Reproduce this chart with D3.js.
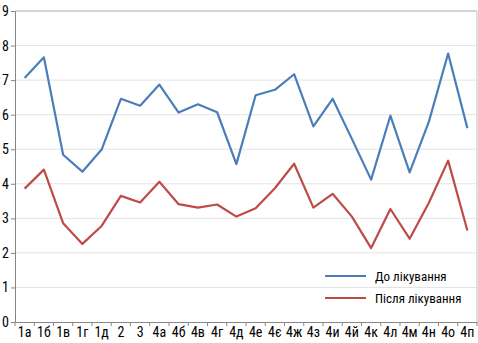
<!DOCTYPE html>
<html><head><meta charset="utf-8">
<script src="https://cdn.jsdelivr.net/npm/d3@7"></script>
<style>
html,body{margin:0;padding:0;background:#fff;}
svg text{font-family:"Roboto Condensed","Liberation Sans",sans-serif;fill:#000;}
</style></head>
<body>
<svg id="c" width="478" height="343"></svg>
<script>
const categories = ["1а","1б","1в","1г","1д","2","3","4а","4б","4в","4г","4д","4е","4є","4ж","4з","4и","4й","4к","4л","4м","4н","4о","4п"];
const before = [7.06,7.66,4.84,4.35,4.99,6.46,6.26,6.87,6.06,6.30,6.07,4.57,6.56,6.72,7.17,5.66,6.46,5.30,4.12,5.97,4.33,5.80,7.77,5.61];
const after  = [3.86,4.41,2.86,2.26,2.78,3.65,3.46,4.06,3.41,3.31,3.40,3.05,3.29,3.87,4.58,3.31,3.71,3.05,2.14,3.27,2.41,3.45,4.67,2.65];
const yTicks = [0,1,2,3,4,5,6,7,8,9];
const seriesNames = ["До лікування","Після лікування"];
const colors = ["#4a7ebb","#be4b48"];

(function(){
const svg = d3.select("#c");
const mL = 15, mR = 477, mT = 11, mB = 322;
const x = d3.scaleBand().domain(categories).range([mL, mR]);
const y = d3.scaleLinear().domain([0, 9]).range([mB, mT]);

// gridlines
svg.append("g").selectAll("line").data(yTicks.filter(d => d > 0)).join("line")
  .attr("x1", mL).attr("x2", mR)
  .attr("y1", d => y(d)).attr("y2", d => y(d))
  .attr("stroke", d => d === 9 ? "#d4d4d4" : "#e3e3e3")
  .attr("stroke-width", d => d === 9 ? 2 : 1);
// right border
svg.append("line").attr("x1", mR).attr("x2", mR).attr("y1", mT).attr("y2", mB)
  .attr("stroke", "#d4d4d4").attr("stroke-width", 1.5);

// y axis
const yAxis = d3.axisLeft(y).tickValues(yTicks).tickSize(4).tickPadding(3).tickFormat(d3.format("d"));
const gy = svg.append("g").attr("transform", `translate(${mL},0)`).call(yAxis);
gy.select(".domain").attr("stroke", "#868686");
gy.selectAll(".tick line").attr("stroke", "#868686");
gy.selectAll("text").attr("font-size", 14).attr("x", -6);

// x axis
const gx = svg.append("g").attr("transform", `translate(0,${mB})`)
  .call(d3.axisBottom(x).tickSize(0).tickPadding(5));
gx.select(".domain").attr("stroke", "#868686");
gx.selectAll("text").attr("font-size", 14);
gx.selectAll(".bt").data(categories.concat(["_end"])).join("line")
  .attr("class", "bt")
  .attr("x1", (d, i) => mL + i * x.step()).attr("x2", (d, i) => mL + i * x.step())
  .attr("y1", 0).attr("y2", 4).attr("stroke", "#868686");

// lines
const line = d3.line().x((d, i) => x(categories[i]) + x.bandwidth() / 2).y(d => y(d));
[before, after].forEach((s, k) => {
  svg.append("path").datum(s).attr("d", line)
    .attr("fill", "none").attr("stroke", colors[k]).attr("stroke-width", 2.2)
    .attr("stroke-linejoin", "round");
});

// legend
const lg = svg.append("g");
seriesNames.forEach((n, k) => {
  const ly = 276 + k * 22;
  lg.append("line").attr("x1", 325).attr("x2", 366).attr("y1", ly).attr("y2", ly)
    .attr("stroke", colors[k]).attr("stroke-width", 2.2);
  lg.append("text").attr("x", 375).attr("y", ly + 5).attr("font-size", 13).text(n);
});
})();
</script>
</body></html>
